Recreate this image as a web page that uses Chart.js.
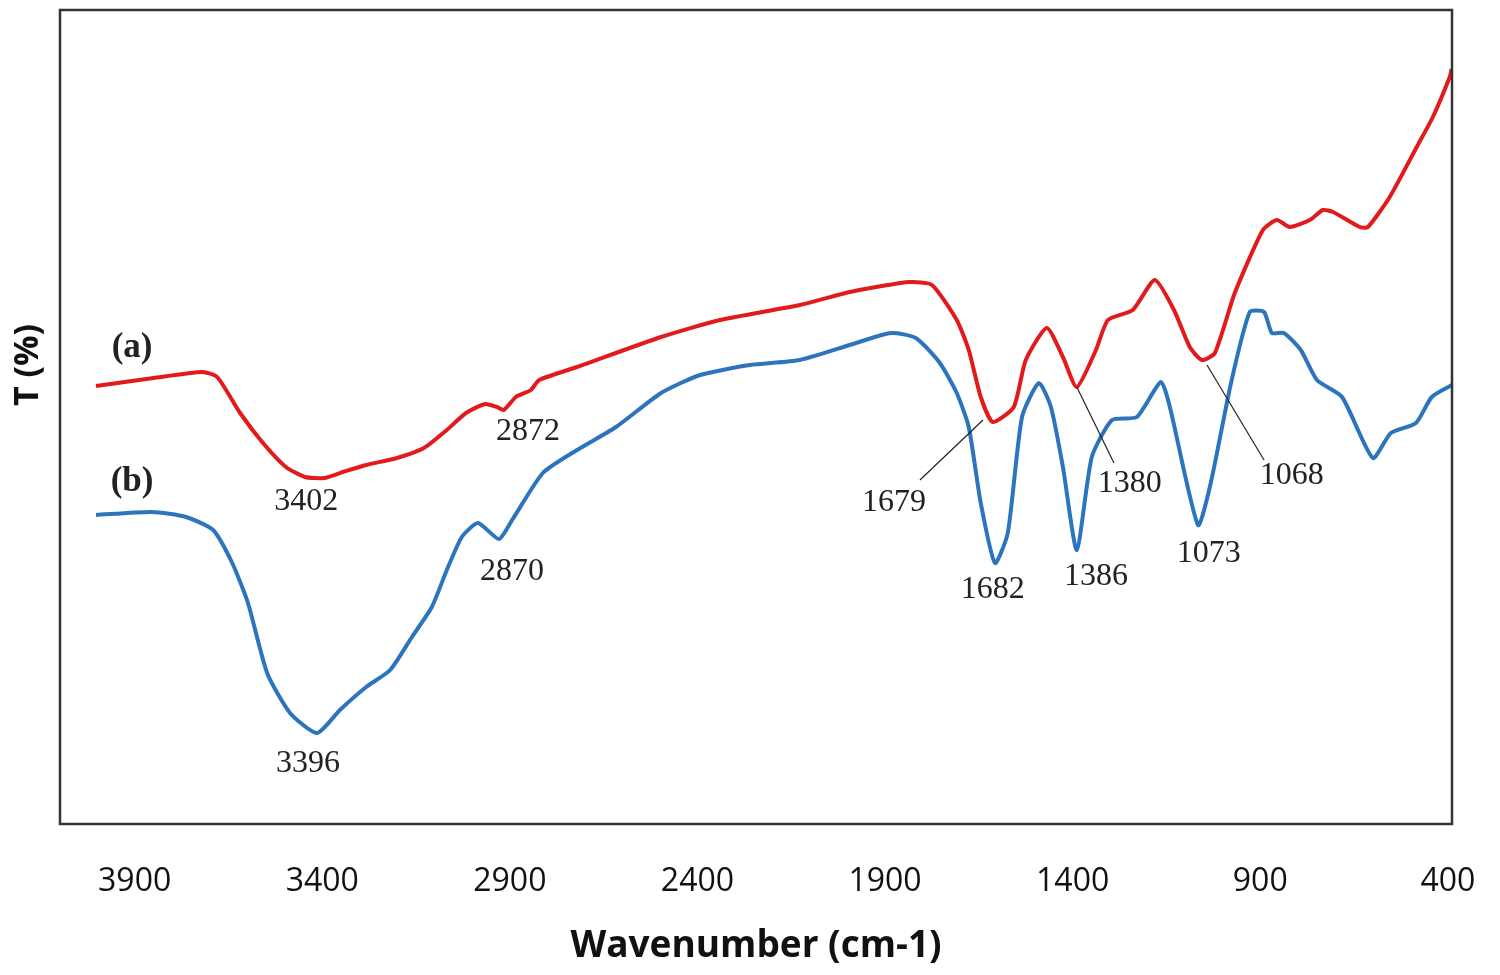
<!DOCTYPE html>
<html>
<head>
<meta charset="utf-8">
<script src="https://cdn.jsdelivr.net/npm/chart.js@4/dist/chart.umd.min.js"></script>
<style>
  html, body { margin: 0; padding: 0; background: #fff; }
  #wrap { width: 1500px; height: 975px; }
</style>
</head>
<body>
<div id="wrap"><canvas id="ftirChart"></canvas></div>
<script>
// x ticks (cm-1)
const tickVals = [3900, 3400, 2900, 2400, 1900, 1400, 900, 400];

// curve (a), red
const wnA = [4003, 3850, 3720, 3680, 3619, 3558, 3497, 3446, 3395, 3345, 3283, 3201, 3129, 3068, 3017,
  2966, 2934, 2916, 2884, 2844, 2822, 2721, 2497, 2340, 2127, 1994, 1860, 1831, 1775, 1709, 1677,
  1645, 1613, 1557, 1525, 1469, 1426, 1389, 1338, 1306, 1240, 1181, 1130, 1088, 1056, 1021, 968,
  893, 856, 821, 768, 733, 706, 635, 613, 555, 483, 440, 395, 390];
const tA = [43.8, 44.6, 45.2, 44.7, 41.1, 38.1, 35.7, 34.7, 34.6, 35.2, 35.9, 36.6, 37.6, 39.4, 41.1,
  42.0, 41.7, 41.4, 42.7, 43.4, 44.4, 45.7, 48.7, 50.4, 51.9, 53.2, 54.1, 54.2, 53.9, 50.4, 47.4,
  42.7, 40.2, 41.7, 46.4, 49.6, 46.7, 43.7, 47.4, 50.4, 51.4, 54.4, 51.4, 47.7, 46.4, 47.1, 53.1,
  59.4, 60.4, 59.7, 60.4, 61.4, 61.2, 59.7, 59.7, 62.7, 67.7, 70.7, 74.7, 75.5];

// curve (b), blue
const wnB = [4003, 3854, 3763, 3691, 3640, 3598, 3547, 3486, 3414, 3353, 3283, 3219, 3161, 3108, 3068,
  3028, 2985, 2929, 2894, 2812, 2721, 2617, 2497, 2393, 2260, 2127, 1994, 1884, 1818, 1754, 1709,
  1677, 1645, 1607, 1573, 1535, 1490, 1458, 1426, 1389, 1349, 1295, 1229, 1165, 1141, 1066, 1032,
  978, 928, 890, 869, 837, 792, 749, 682, 600, 552, 485, 443, 389];
const tB = [30.9, 31.2, 30.7, 29.4, 26.1, 22.1, 15.1, 11.1, 9.1, 11.4, 13.7, 15.4, 18.7, 21.7, 25.4,
  28.7, 30.1, 28.5, 30.4, 35.1, 37.4, 39.7, 43.1, 44.9, 45.9, 46.4, 47.9, 49.1, 48.6, 46.1, 43.1,
  39.7, 32.1, 26.1, 29.1, 40.7, 44.1, 41.7, 35.7, 27.4, 36.7, 40.4, 40.7, 44.2, 41.7, 29.9, 34.1,
  44.1, 51.2, 51.2, 49.1, 49.1, 47.4, 44.4, 42.7, 36.6, 39.1, 40.1, 42.7, 43.9];

// peak labels: text, wavenumber, T
const peakLabels = [
  ['3402', 3443, 32.2], ['2872', 2852, 39.2], ['3396', 3438, 6.0], ['2870', 2894, 25.2],
  ['1679', 1876, 32.1], ['1682', 1613, 23.4], ['1386', 1338, 24.7], ['1380', 1248, 34.0],
  ['1073', 1037, 27.0], ['1068', 816, 34.8]
];
// leader lines: [wn1, T1, wn2, T2]
const leaders = [
  [1807, 34.4, 1639, 40.4],
  [1389, 43.7, 1290, 36.1],
  [1042, 45.9, 890, 36.4]
];
const seriesTags = [['(a)', 3907, 47.6], ['(b)', 3907, 34.2]];

const toXY = (xs, ys) => xs.map((x, i) => ({ x: x, y: ys[i] }));

const decor = {
  id: 'decor',
  afterDatasetsDraw(chart) {
    const { ctx, chartArea: a, scales: { x, y } } = chart;
    ctx.save();
    // frame
    ctx.strokeStyle = '#333';
    ctx.lineWidth = 2.5;
    ctx.strokeRect(a.left, a.top, a.right - a.left, a.bottom - a.top);

    // leader lines
    ctx.strokeStyle = '#222';
    ctx.lineWidth = 1.2;
    leaders.forEach(l => {
      ctx.beginPath();
      ctx.moveTo(x.getPixelForValue(l[0]), y.getPixelForValue(l[1]));
      ctx.lineTo(x.getPixelForValue(l[2]), y.getPixelForValue(l[3]));
      ctx.stroke();
    });

    ctx.fillStyle = '#222';
    ctx.textAlign = 'center';
    ctx.textBaseline = 'middle';
    ctx.font = '32px "Liberation Serif", "DejaVu Serif", serif';
    peakLabels.forEach(p => {
      ctx.fillText(p[0], x.getPixelForValue(p[1]), y.getPixelForValue(p[2]));
    });
    ctx.font = 'bold 35px "Liberation Serif", "DejaVu Serif", serif';
    seriesTags.forEach(p => {
      ctx.fillText(p[0], x.getPixelForValue(p[1]), y.getPixelForValue(p[2]));
    });

    // y title
    ctx.translate(28, 365);
    ctx.rotate(-Math.PI / 2);
    ctx.font = 'bold 34px "Open Sans", sans-serif';
    ctx.fillStyle = '#111';
    ctx.fillText('T (%)', 0, 0);
    ctx.restore();
  }
};

new Chart(document.getElementById('ftirChart').getContext('2d'), {
  type: 'line',
  data: {
    datasets: [
      {
        label: '(a)',
        data: toXY(wnA, tA),
        borderColor: '#e31a1c',
        borderWidth: 4,
        pointRadius: 0,
        tension: 0.2
      },
      {
        label: '(b)',
        data: toXY(wnB, tB),
        borderColor: '#2c74be',
        borderWidth: 4,
        pointRadius: 0,
        tension: 0.2
      }
    ]
  },
  options: {
    responsive: true,
    maintainAspectRatio: false,
    animation: false,
    layout: { padding: { left: 0, right: 48, top: 10, bottom: 0 } },
    plugins: {
      legend: { display: false },
      tooltip: { enabled: false }
    },
    scales: {
      x: {
        type: 'linear',
        reverse: true,
        min: 389,
        max: 4099,
        grid: { display: false, drawTicks: false },
        border: { display: false },
        afterBuildTicks: s => { s.ticks = tickVals.map(v => ({ value: v })); },
        afterFit: s => { s.height = 151; s.paddingLeft = 0; s.paddingRight = 0; },
        ticks: {
          padding: 39,
          maxRotation: 0,
          autoSkip: false,
          color: '#111',
          font: { family: '"Open Sans", sans-serif', size: 32 },
          callback: v => String(v)
        },
        title: {
          display: true,
          text: 'Wavenumber (cm-1)',
          color: '#111',
          padding: { top: 0, bottom: 6 },
          font: { family: '"Open Sans", sans-serif', size: 37, weight: 'bold' }
        }
      },
      y: {
        min: 0,
        max: 81.4,
        grid: { display: false, drawTicks: false },
        border: { display: false },
        ticks: { display: false },
        afterFit: s => { s.width = 60; }
      }
    }
  },
  plugins: [decor]
});
</script>
</body>
</html>
